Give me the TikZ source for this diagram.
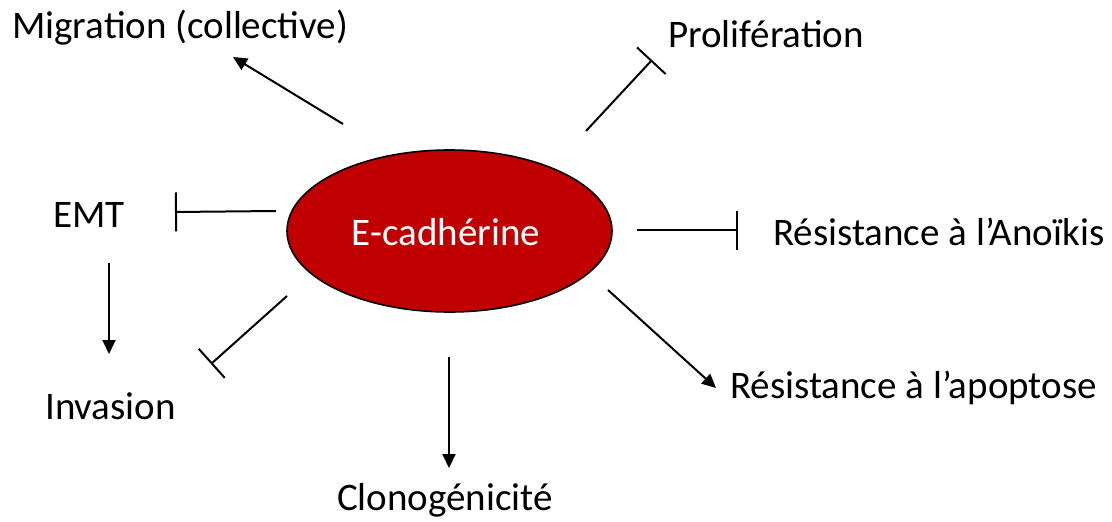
\documentclass[tikz,border=0pt]{standalone}
\usepackage{fontspec}
\setmainfont{Carlito}
\usetikzlibrary{arrows.meta,shapes.geometric}
\definecolor{ecad}{HTML}{C00000}
\tikzset{
  lbl/.style={anchor=base west, inner sep=0pt, font=\fontsize{39}{46}\selectfont},
  act/.style={line width=2pt, -{Triangle[length=14pt,width=13pt]}},
  inh/.style={line width=2pt, -{Bar[width=39pt,line width=2pt]}},
}
\begin{document}
\begin{tikzpicture}[x=1pt,y=-1pt]
\useasboundingbox (0,0) rectangle (1112,522);
\node[ellipse, draw, line width=1.6pt, fill=ecad, minimum width=325pt, minimum height=162pt, inner sep=0pt] (ec) at (449.5,231) {};
\node[anchor=base, inner sep=0pt, text=white, font=\fontsize{39}{46}\selectfont] (ectext) at (446,245) {E-cadhérine};
\node[lbl] (mig) at (12,38) {Migration (collective)};
\node[lbl] (pro) at (668,47) {Prolifération};
\node[lbl] (emt) at (53,227) {EMT};
\node[lbl] (ano) at (773,245) {Résistance à l’Anoïkis};
\node[lbl] (apo) at (730,398) {Résistance à l’apoptose};
\node[lbl] (inv) at (45,419) {Invasion};
\node[lbl] (clo) at (337,510) {Clonogénicité};
% connector endpoints
\coordinate (m1) at (343,124); \coordinate (m2) at (233,57);
\coordinate (p1) at (586,131); \coordinate (p2) at (652,60);
\coordinate (e1) at (276,211); \coordinate (e2) at (175,212);
\coordinate (ei1) at (109,263); \coordinate (ei2) at (109,354);
\coordinate (i1) at (287,296); \coordinate (i2) at (211,364);
\coordinate (a1) at (637,230); \coordinate (a2) at (738,230);
\coordinate (ap1) at (608,290); \coordinate (ap2) at (716,388);
\coordinate (c1) at (449,357); \coordinate (c2) at (449,468);
\draw[act] (m1) -- (m2);
\draw[inh] (p1) -- (p2);
\draw[inh] (e1) -- (e2);
\draw[act] (ei1) -- (ei2);
\draw[inh] (i1) -- (i2);
\draw[inh] (a1) -- (a2);
\draw[act] (ap1) -- (ap2);
\draw[act] (c1) -- (c2);
\end{tikzpicture}
\end{document}
